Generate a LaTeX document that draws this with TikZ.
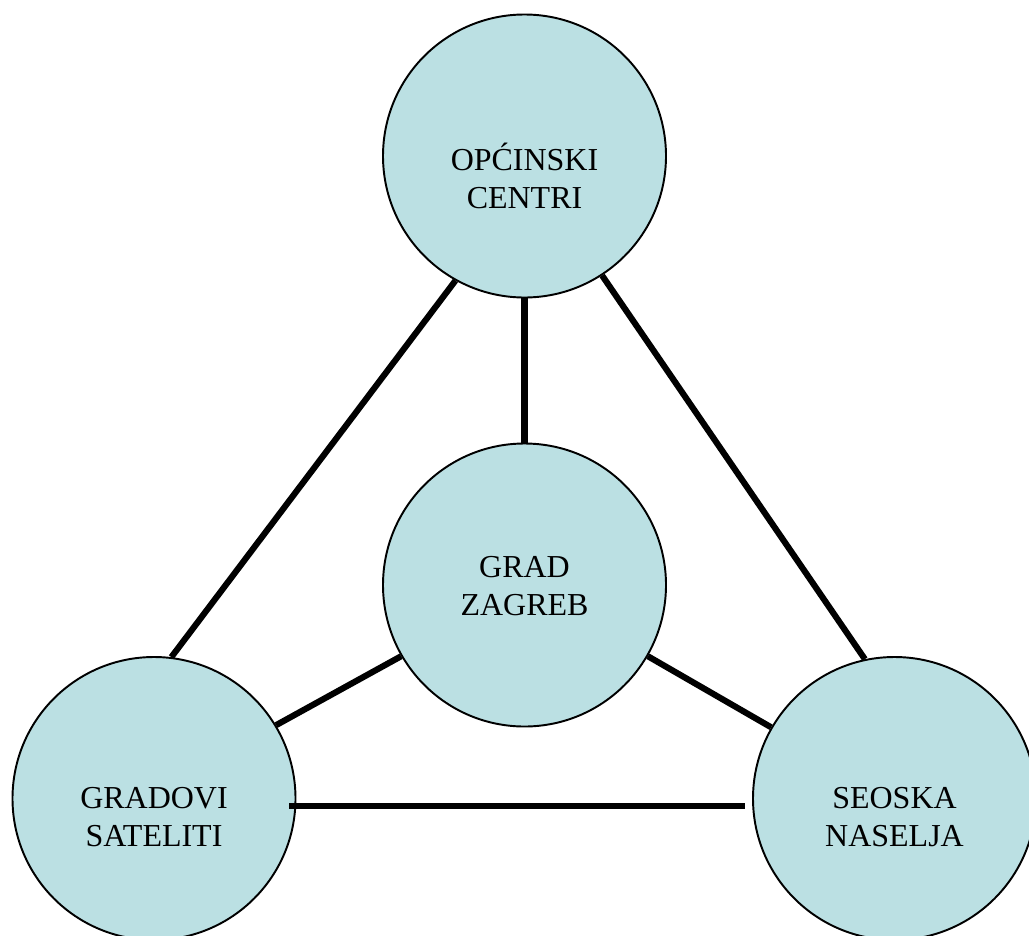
\documentclass[tikz,border=0pt]{standalone}
\usepackage{fontspec}
\setmainfont{Liberation Serif}
\definecolor{townfill}{RGB}{187,224,227}
\tikzset{
  town/.style={circle, draw, line width=1.1pt, fill=townfill, minimum size=5.66cm, inner sep=0pt},
  townname/.style={align=center, inner sep=0pt, font=\fontsize{18.2}{21.6}\selectfont},
  link/.style={-, line width=3.5pt}
}
\begin{document}
\begin{tikzpicture}
    		\newcommand{\midx}{10.49}
    		\newcommand{\leftx}{3.08}
    		\newcommand{\rightx}{17.89}
    		\newcommand{\lowy}{-15.97}
    		\newcommand{\txtdrop}{-0.37}

    		\useasboundingbox (0,0) rectangle (20.58,-18.7);

    		% circles
    		\node[town] (opc) at (\midx,-3.12) {};
    		\node[town] (grad) at (\midx,-11.70) {};
    		\node[town] (sat) at (\leftx,\lowy) {};
    		\node[town] (sel) at (\rightx,\lowy) {};

    		% names
    		\node[townname] (opcname) at ([yshift=-0.39cm]opc.center) {OPĆINSKI\\CENTRI};
    		\node[townname] (gradname) at ([yshift=-0.02cm]grad.center) {GRAD\\ZAGREB};
    		\node[townname] (satname) at ([yshift=\txtdrop cm]sat.center) {GRADOVI\\SATELITI};
    		\node[townname] (selname) at ([yshift=\txtdrop cm]sel.center) {SEOSKA\\NASELJA};

    		% links
    		\draw[link] (opc.241) -- (sat.83);
    		\draw[link] (opc.303) -- (sel.102);
    		\draw[link] (opc.south) -- (grad.north);
    		\draw[link] (grad.210) -- (sat.31);
    		\draw[link] (grad.330) -- (sel.150);
    		\draw[link] ([xshift=-0.14cm]sat.-3) -- ([xshift=-0.14cm]sel.west |- sat.-3);

\end{tikzpicture}
\end{document}
